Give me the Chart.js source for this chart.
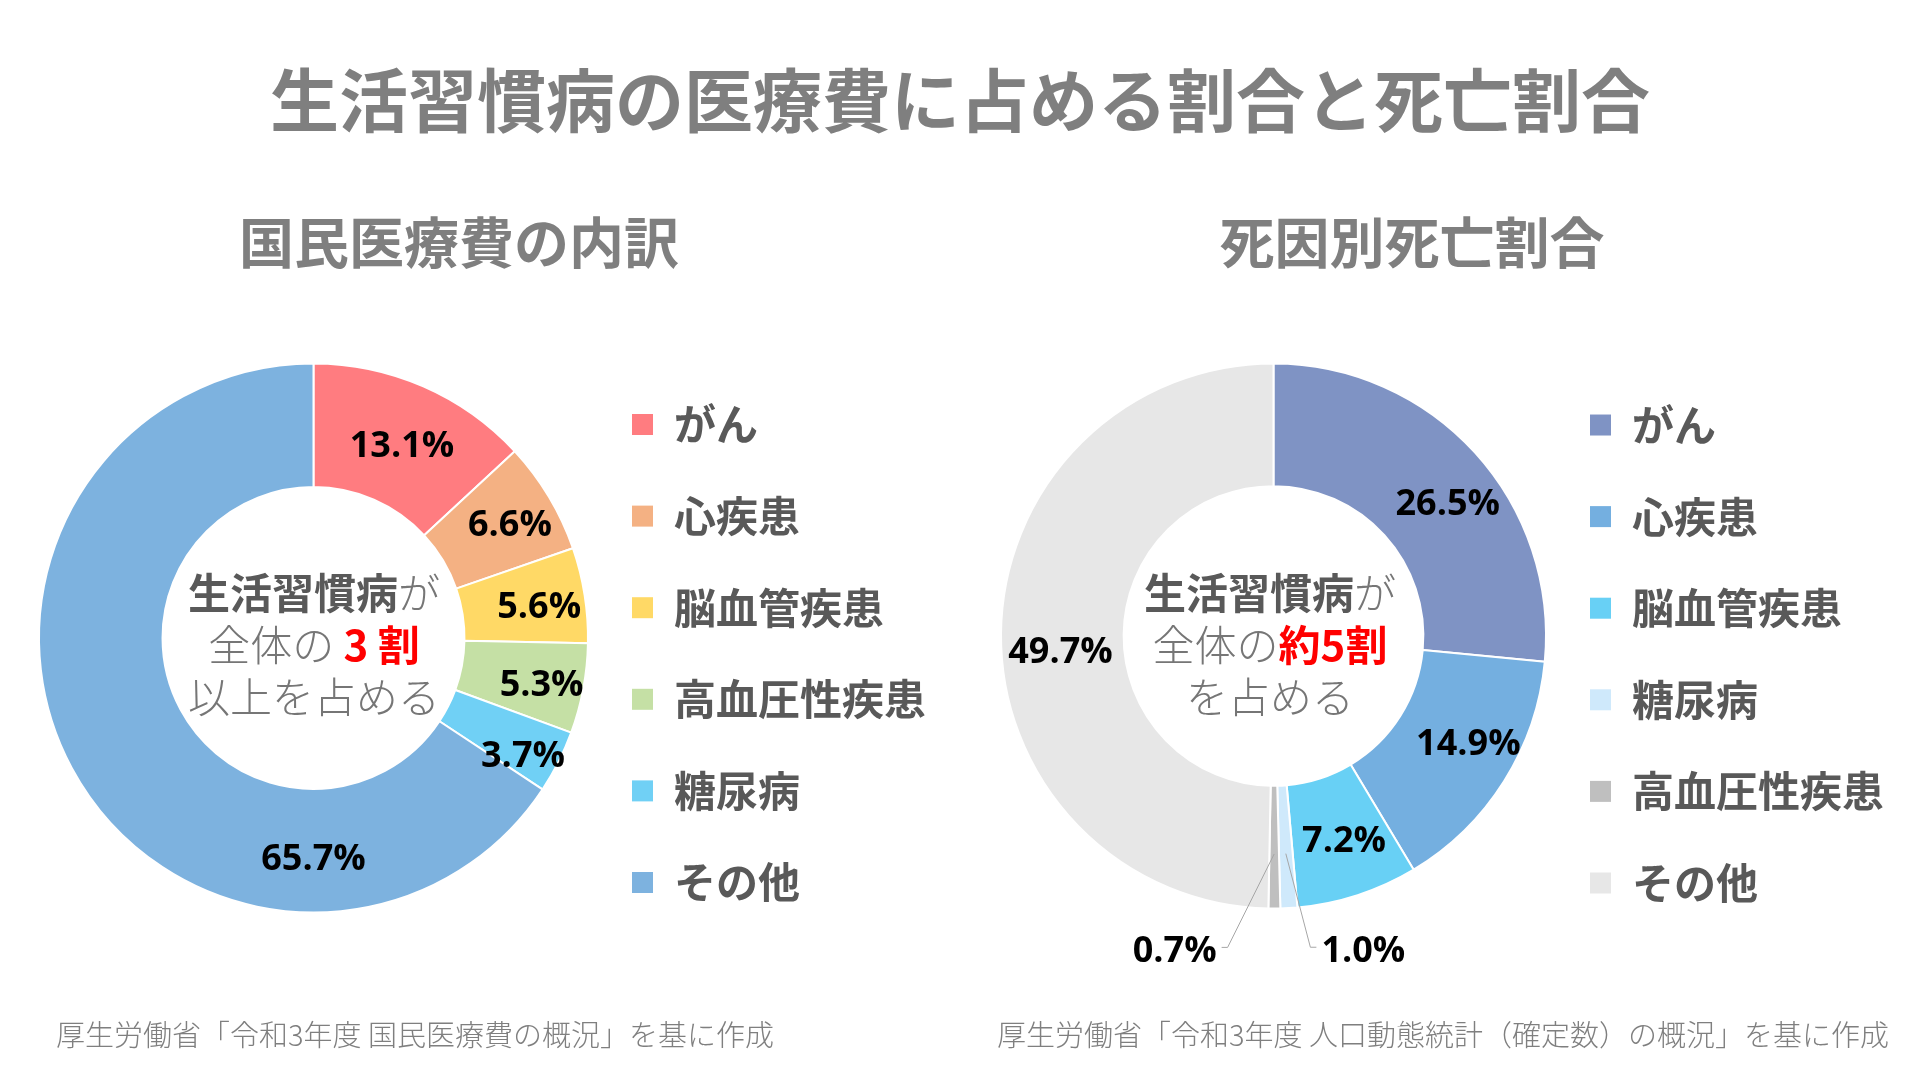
<!DOCTYPE html>
<html lang="ja">
<head>
<meta charset="utf-8">
<script src="https://cdn.jsdelivr.net/npm/chart.js@4.4.1/dist/chart.umd.min.js"></script>
<style>
  body { margin: 0; background: #ffffff; }
  #page { position: relative; width: 1920px; height: 1080px; overflow: hidden; background: #ffffff;
          font-family: 'Noto Sans CJK JP', 'Noto Sans', sans-serif; }
  .t { position: absolute; white-space: nowrap; text-align: center; }
  canvas { position: absolute; }
  .main { left: 0; width: 1920px; top: 57px; font-size: 69px; line-height: 80px; font-weight: 700; color: #7f7f7f; }
  .sub { width: 600px; top: 209px; font-size: 55px; line-height: 60px; font-weight: 700; color: #7f7f7f; }
  .center { width: 400px; top: 565px; font-size: 42px; line-height: 52px; color: #767676; font-weight: 300; }
  .center b { font-weight: 700; color: #595959; }
  .center .red { font-weight: 700; color: #ff0000; }
  .note { top: 1016px; font-size: 29px; line-height: 34px; color: #7f7f7f; font-weight: 300; text-align: left; }
</style>
</head>
<body>
<div id="page">
  <canvas id="costChart" width="960" height="780" style="left:0px;top:250px"></canvas>
  <canvas id="deathChart" width="960" height="780" style="left:960px;top:250px"></canvas>

  <div class="t main">生活習慣病の医療費に占める割合と死亡割合</div>
  <div class="t sub" style="left:159px">国民医療費の内訳</div>
  <div class="t sub" style="left:1112px">死因別死亡割合</div>

  <div class="t center" style="left:114px"><b>生活習慣病</b>が<br>全体の <span class="red">3 割</span><br>以上を占める</div>
  <div class="t center" style="left:1070px"><b>生活習慣病</b>が<br>全体の<span class="red">約5割</span><br>を占める</div>

  <div class="t note" style="left:56px">厚生労働省「令和3年度 国民医療費の概況」を基に作成</div>
  <div class="t note" style="left:997px">厚生労働省「令和3年度 人口動態統計（確定数）の概況」を基に作成</div>
</div>

<script>
// ---- Data ----
const costCategories = ['がん', '心疾患', '脳血管疾患', '高血圧性疾患', '糖尿病', 'その他'];
const costValues = [13.1, 6.6, 5.6, 5.3, 3.7, 65.7];
const costColors = ['#ff7c80', '#f4b183', '#ffd966', '#c5e0a5', '#70d0f5', '#7db2df'];

const deathCategories = ['がん', '心疾患', '脳血管疾患', '糖尿病', '高血圧性疾患', 'その他'];
const deathValues = [26.5, 14.9, 7.2, 1.0, 0.7, 49.7];
const deathColors = ['#7f93c4', '#74afe0', '#68d0f5', '#cfe9fb', '#bfbfbf', '#e7e7e7'];

// label placement tweaks (angle delta in degrees, radius factor of mid-ring)
const costLabelPlace = [
  { da: 1.0, rf: 1.0 }, { da: 0.7, rf: 1.069 }, { da: 0.7, rf: 1.072 },
  { da: 0.6, rf: 1.093 }, { da: 2.2, rf: 1.126 }, { angle: 180, rf: 1.028 }
];
const deathLabelPlace = [
  { da: 4.8, rf: 1.04 }, { da: -3.7, rf: 1.05 }, { da: -1.1, rf: 1.02 },
  { angle: 164, rf: 1.543, leader: true }, { angle: 197.5, rf: 1.556, leader: true }, { da: -4.3, rf: 1.011 }
];

// ---- Percent label plugin ----
const pctLabels = {
  id: 'pctLabels',
  afterDatasetsDraw(chart, args, opts) {
    const ctx = chart.ctx;
    const meta = chart.getDatasetMeta(0);
    const data = chart.data.datasets[0].data;
    ctx.save();
    ctx.font = opts.font;
    ctx.fillStyle = opts.color;
    ctx.textAlign = 'center';
    ctx.textBaseline = 'alphabetic';
    meta.data.forEach((arc, i) => {
      const p = arc.getProps(['x', 'y', 'startAngle', 'endAngle', 'innerRadius', 'outerRadius'], true);
      const place = opts.place[i] || {};
      const mid = (p.startAngle + p.endAngle) / 2;
      const a = place.angle !== undefined ? (place.angle - 90) * Math.PI / 180
                                          : mid + (place.da || 0) * Math.PI / 180;
      const r = (p.innerRadius + p.outerRadius) / 2 * (place.rf || 1);
      const lx = p.x + Math.cos(a) * r;
      const ly = p.y + Math.sin(a) * r;
      const text = data[i].toFixed(1) + '%';
      if (place.leader) {
        const w = ctx.measureText(text).width;
        const sx = p.x + Math.cos(mid) * p.outerRadius * 0.8;
        const sy = p.y + Math.sin(mid) * p.outerRadius * 0.8;
        const dir = sx > lx ? 1 : -1;
        const x0 = lx + dir * (w / 2 + 5);
        const y0 = ly - 2;
        ctx.save();
        ctx.strokeStyle = '#a6a6a6';
        ctx.lineWidth = 1;
        ctx.beginPath();
        ctx.moveTo(x0, y0);
        ctx.lineTo(x0 + dir * 6, y0);
        ctx.lineTo(sx, sy);
        ctx.stroke();
        ctx.restore();
      }
      ctx.fillText(text, lx, ly + opts.size * 0.357);
    });
    ctx.restore();
  }
};

function makeChart(id, labels, values, colors, cfg) {
  return new Chart(document.getElementById(id), {
    type: 'doughnut',
    data: {
      labels: labels,
      datasets: [{ data: values, backgroundColor: colors, borderColor: '#ffffff', borderWidth: 2, hoverOffset: 0 }]
    },
    options: {
      responsive: false,
      animation: false,
      events: [],
      cutout: '55%',
      layout: { padding: cfg.padding },
      plugins: {
        tooltip: { enabled: false },
        title: { display: false },
        legend: {
          position: 'right',
          align: 'center',
          title: { display: true, text: '', padding: { top: cfg.legendShift, bottom: 0 }, font: { size: 1, lineHeight: 1 } },
          labels: {
            boxWidth: 21,
            boxHeight: 21,
            padding: 43,
            color: '#595959',
            font: { family: "'Noto Sans CJK JP', sans-serif", size: 42, weight: 'bold', lineHeight: 1.157 },
            generateLabels(chart) {
              const ds = chart.data.datasets[0];
              return chart.data.labels.map((t, i) => ({
                text: [t],
                fillStyle: ds.backgroundColor[i],
                strokeStyle: ds.backgroundColor[i],
                lineWidth: 0,
                fontColor: '#595959',
                hidden: false,
                index: i
              }));
            }
          }
        },
        pctLabels: { place: cfg.place, font: "700 36px 'Open Sans', 'DejaVu Sans', sans-serif", size: 36, color: '#000000' }
      }
    },
    plugins: [pctLabels]
  });
}

makeChart('costChart', costCategories, costValues, costColors, {
  padding: { left: 38, right: 24, top: 38, bottom: 42 },
  legendShift: 36.6,
  place: costLabelPlace
});
makeChart('deathChart', deathCategories, deathValues, deathColors, {
  padding: { left: 40, right: 26, top: 36, bottom: 44 },
  legendShift: 41.6,
  place: deathLabelPlace
});
</script>
</body>
</html>
